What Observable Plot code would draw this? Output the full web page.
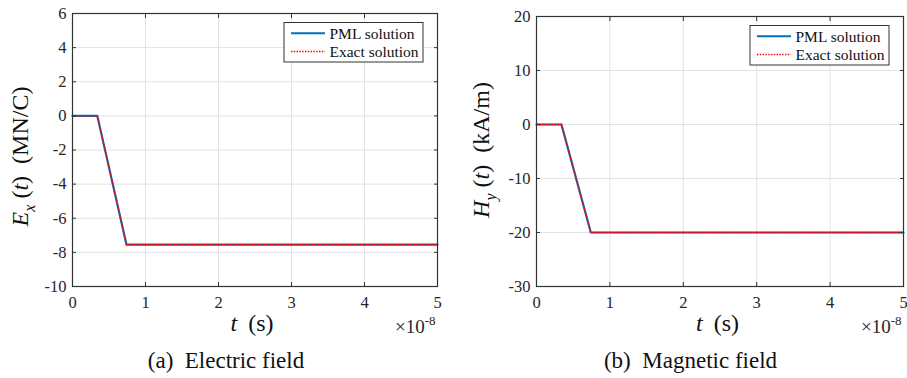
<!DOCTYPE html>
<html>
<head>
<meta charset="utf-8">
<script src="https://cdn.jsdelivr.net/npm/d3@7"></script>
<script src="https://cdn.jsdelivr.net/npm/@observablehq/plot@0.6"></script>
<style>
  html, body { margin: 0; padding: 0; background: #fff; }
  #wrap { position: relative; width: 907px; height: 378px; overflow: hidden; background: #fff; }
  .panel { position: absolute; top: 0; }
  .cap { position: absolute; top: 349px; font-family: "Liberation Serif", "DejaVu Serif", serif; font-size: 23px; line-height: 23px; color: #111; text-align: center; white-space: pre; }
  svg text { font-family: "Liberation Serif", "DejaVu Serif", serif; }
</style>
</head>
<body>
<div id="wrap"></div>
<script>
// time in units of 1e-8 s
const timeTicks = [0, 1, 2, 3, 4, 5];
const tPoints = [0, 0.34, 0.74, 5];

// Electric field Ex(t), MN/C
const exPML = [0, 0, -7.55, -7.55];
const exExact = [0, 0, -7.55, -7.55];
const exTicks = [-10, -8, -6, -4, -2, 0, 2, 4, 6];

// Magnetic field Hy(t), kA/m
const hyPML = [0, 0, -20, -20];
const hyExact = [0, 0, -20, -20];
const hyTicks = [-30, -20, -10, 0, 10, 20];

const legendLabels = ["PML solution", "Exact solution"];
const captions = ["(a)  Electric field", "(b)  Magnetic field"];

const FONT = '"Liberation Serif", "DejaVu Serif", serif';
const INK = "#262626";
const BLUE = "#0072BD";
const RED = "#FF0000";
const GRID = "#e2e2e2";

function panel(opts) {
  const {left, width, mL, mR, mT, mB, height, pml, exact, yTicks, labelSym, labelSub, labelUnit,
         yLabX, yLabDy, xLabShift, caption, capCenter} = opts;
  const pmlData = tPoints.map((t, i) => ({t, v: pml[i]}));
  const exData = tPoints.map((t, i) => ({t, v: exact[i]}));
  const fmt = d => String(d);
  const chart = Plot.plot({
    width, height,
    marginLeft: mL, marginRight: mR, marginTop: mT, marginBottom: mB,
    style: {fontFamily: FONT, fontSize: "16.5px", color: INK, background: "white", overflow: "visible"},
    x: {domain: [0, 5], ticks: timeTicks, label: null},
    y: {domain: [yTicks[0], yTicks[yTicks.length - 1]], ticks: yTicks, label: null},
    marks: [
      Plot.gridX(timeTicks, {stroke: GRID, strokeOpacity: 1}),
      Plot.gridY(yTicks, {stroke: GRID, strokeOpacity: 1}),
      Plot.line(pmlData, {x: "t", y: "v", stroke: BLUE, strokeWidth: 2.2}),
      Plot.line(exData, {x: "t", y: "v", stroke: RED, strokeWidth: 1.3, strokeDasharray: "1.2,1.8"}),
      Plot.frame({stroke: "#333", strokeWidth: 1.2}),
      Plot.axisX(timeTicks, {anchor: "bottom", tickSize: -4, tickPadding: 14, label: null, tickFormat: fmt, stroke: "#333", fill: INK}),
      Plot.axisX(timeTicks, {anchor: "top", tickSize: -4, label: null, tickFormat: () => "", stroke: "#333"}),
      Plot.axisY(yTicks, {anchor: "left", tickSize: -4, tickPadding: 10, label: null, tickFormat: fmt, stroke: "#333", fill: INK}),
      Plot.axisY(yTicks, {anchor: "right", tickSize: -4, label: null, tickFormat: () => "", stroke: "#333"})
    ]
  });
  chart.classList.add("panel");
  chart.style.left = left + "px";
  const svg = d3.select(chart);
  const pr = width - mR;            // plot right
  const pb = height - mB;           // plot bottom
  const pcx = (mL + pr) / 2;
  const pcy = (mT + pb) / 2;

  // y label
  const yl = svg.append("text")
    .attr("transform", `translate(${yLabX},${pcy + yLabDy}) rotate(-90)`)
    .attr("text-anchor", "middle")
    .attr("font-family", FONT).attr("font-size", 24).attr("fill", "#111");
  yl.append("tspan").attr("font-style", "italic").text(labelSym);
  yl.append("tspan").attr("font-style", "italic").attr("font-size", 16).attr("dy", 7).text(labelSub);
  yl.append("tspan").attr("dy", -7).attr("dx", 6).text("(");
  yl.append("tspan").attr("font-style", "italic").text("t");
  yl.append("tspan").text(")");
  yl.append("tspan").attr("dx", 12).text(labelUnit);

  // x label
  const xl = svg.append("text")
    .attr("x", pcx + xLabShift).attr("y", 331)
    .attr("text-anchor", "middle")
    .attr("font-family", FONT).attr("font-size", 24).attr("fill", "#111");
  xl.append("tspan").attr("font-style", "italic").text("t");
  xl.append("tspan").attr("dx", 11).text("(s)");

  // exponent
  const ex = svg.append("text")
    .attr("x", pr - 1.5).attr("y", 333)
    .attr("text-anchor", "end")
    .attr("font-family", FONT).attr("font-size", 19).attr("fill", INK);
  ex.append("tspan").text("\u00d710");
  ex.append("tspan").attr("font-size", 13).attr("dy", -8).text("-8");

  // legend
  const bw = 139, bh = 39.5;
  const bx = pr - 14 - bw, by = mT + 9.5;
  const lg = svg.append("g");
  lg.append("rect").attr("x", bx).attr("y", by).attr("width", bw).attr("height", bh)
    .attr("fill", "white").attr("stroke", "#333").attr("stroke-width", 1);
  const rows = [
    {label: legendLabels[0], stroke: BLUE, w: 2, dash: null, cy: by + 10.8},
    {label: legendLabels[1], stroke: RED, w: 1.6, dash: "1.4,1.4", cy: by + 29}
  ];
  rows.forEach(r => {
    lg.append("line").attr("x1", bx + 7).attr("x2", bx + 41).attr("y1", r.cy).attr("y2", r.cy)
      .attr("stroke", r.stroke).attr("stroke-width", r.w).attr("stroke-dasharray", r.dash);
    lg.append("text").attr("x", bx + 45.5).attr("y", r.cy + 5.5)
      .attr("text-anchor", "start")
      .attr("font-family", FONT).attr("font-size", 15.5).attr("fill", "#111").text(r.label);
  });

  document.getElementById("wrap").appendChild(chart);

  const cap = document.createElement("div");
  cap.className = "cap";
  cap.textContent = caption;
  cap.style.left = (capCenter - 150) + "px";
  cap.style.width = "300px";
  document.getElementById("wrap").appendChild(cap);
}

panel({left: 0, width: 453, mL: 72, mR: 16, mT: 13, mB: 54, height: 340,
  pml: exPML, exact: exExact, yTicks: exTicks, labelSym: "E", labelSub: "x", labelUnit: "(MN/C)",
  yLabX: 27.5, yLabDy: 7, xLabShift: -2.5, caption: captions[0], capCenter: 226});

panel({left: 455, width: 452, mL: 81, mR: 4, mT: 16, mB: 54, height: 340,
  pml: hyPML, exact: hyExact, yTicks: hyTicks, labelSym: "H", labelSub: "y", labelUnit: "(kA/m)",
  yLabX: 33.5, yLabDy: -1, xLabShift: -2, caption: captions[1], capCenter: 690.5});
</script>
</body>
</html>
